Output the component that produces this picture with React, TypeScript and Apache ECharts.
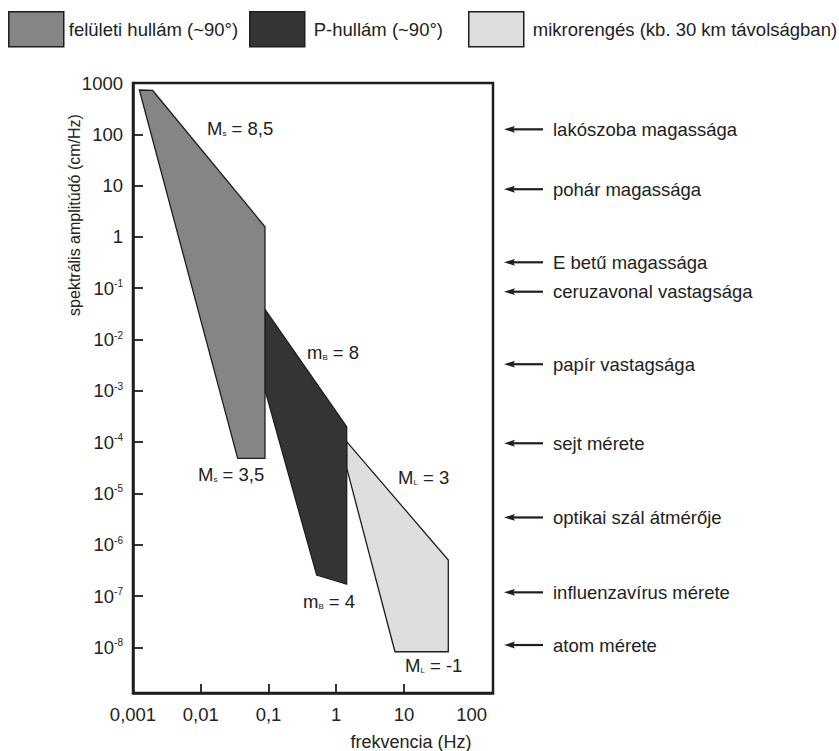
import React, { useEffect, useRef } from 'react';
import * as echarts from 'echarts';

const FONT = '"Liberation Sans", Arial, Helvetica, sans-serif';
const INK = '#1e1e1e';
const TEXT = '#222222';
const FS = 18.5;

// Series
const seriesNames = ['felületi hullám (~90°)', 'P-hullám (~90°)', 'mikrorengés (kb. 30 km távolságban)'];
const seriesFills = ['#858585', '#343434', '#dedede'];

// Polygon vertices: [frequency (Hz), spectral amplitude (cm/Hz)]
const surfaceWave: number[][] = [
  [0.00124, 730], [0.00195, 715], [0.0887, 1.58], [0.0887, 4.83e-5], [0.0351, 4.83e-5],
];
const pWave: number[][] = [
  [0.0887, 0.0388], [1.426, 2.0e-4], [1.426, 1.71e-7], [0.514, 2.56e-7], [0.0887, 1.04e-3],
];
const microQuake: number[][] = [
  [1.426, 1.02e-4], [45.1, 5.04e-7], [45.1, 8.2e-9], [7.36, 8.2e-9], [1.426, 3.13e-5],
];

// Ticks (decade exponents) and labels
const xTickExps = [-3, -2, -1, 0, 1, 2];
const xTickLabels = ['0,001', '0,01', '0,1', '1', '10', '100'];
const yTickExps = [-8, -7, -6, -5, -4, -3, -2, -1, 0, 1, 2, 3];
const yTickLabels = [
  '10{sup|-8}', '10{sup|-7}', '10{sup|-6}', '10{sup|-5}', '10{sup|-4}', '10{sup|-3}',
  '10{sup|-2}', '10{sup|-1}', '1', '10', '100', '1000',
];

// Reference sizes (cm)
const refNames = [
  'lakószoba magassága', 'pohár magassága', 'E betű magassága', 'ceruzavonal vastagsága',
  'papír vastagsága', 'sejt mérete', 'optikai szál átmérője', 'influenzavírus mérete', 'atom mérete',
];
const refValues = [125, 8.5, 0.32, 0.0855, 0.0033, 9.5e-5, 3.4e-6, 1.18e-7, 1.11e-8];

// Magnitude annotations
const magnitudeTexts = ['M{sub|s} = 8,5', 'm{sub|B} = 8', 'M{sub|s} = 3,5', 'M{sub|L} = 3', 'm{sub|B} = 4', 'M{sub|L} = -1'];
const magnitudePos = [[207, 128], [307, 352], [198, 474], [398, 477], [303, 601], [405, 665]];

const polys = [surfaceWave, pWave, microQuake];
const toLog = (pts: number[][]) => pts.map(([x, y]) => [Math.log10(x), Math.log10(y)]);

export default function App() {
  const ref = useRef<HTMLDivElement>(null);

  useEffect(() => {
    document.body.style.margin = '0';
    if (!ref.current) return;
    const chart = echarts.init(ref.current, null, { renderer: 'svg' });

    const legendLeft = [8, 249, 468];
    const legendPad = [0, 4, 4];

    const option: any = {
      animation: false,
      backgroundColor: '#ffffff',
      textStyle: { fontFamily: FONT },
      legend: seriesNames.map((n, i) => ({
        data: [n],
        left: legendLeft[i],
        top: 11,
        padding: 0,
        itemWidth: 55,
        itemHeight: 35,
        icon: 'rect',
        selectedMode: false,
        itemStyle: { borderColor: INK, borderWidth: 1.5 },
        textStyle: { fontSize: FS, color: TEXT, fontFamily: FONT, padding: [0, 0, 0, legendPad[i]] },
      })),
      grid: {
        left: 133,
        top: 83,
        width: 360,
        height: 610,
        show: true,
        borderColor: INK,
        borderWidth: 2.5,
        backgroundColor: 'transparent',
        outerBoundsMode: 'none',
      },
      xAxis: {
        type: 'value',
        min: -3,
        max: 2.314,
        splitLine: { show: false },
        axisLine: { show: true, onZero: false, lineStyle: { color: INK, width: 2.5 } },
        axisTick: {
          show: true, inside: true, length: 9, customValues: [-2, -1, 0, 1],
          lineStyle: { color: INK, width: 1.8 },
        },
        axisLabel: {
          customValues: xTickExps,
          formatter: (v: number) => {
            const k = xTickExps.indexOf(Math.round(v));
            return k >= 0 && Math.abs(v - Math.round(v)) < 1e-6 ? xTickLabels[k] : '';
          },
          fontSize: FS,
          color: TEXT,
          fontFamily: FONT,
          margin: 12,
        },
      },
      yAxis: {
        type: 'value',
        min: -8.89,
        max: 3,
        splitLine: { show: false },
        axisLine: { show: true, onZero: false, lineStyle: { color: INK, width: 2.5 } },
        axisTick: {
          show: true, inside: true, length: 10, customValues: yTickExps,
          lineStyle: { color: INK, width: 1.8 },
        },
        axisLabel: {
          customValues: yTickExps,
          formatter: (v: number) => {
            const k = yTickExps.indexOf(Math.round(v));
            return k >= 0 && Math.abs(v - Math.round(v)) < 1e-6 ? yTickLabels[k] : '';
          },
          fontSize: FS,
          color: TEXT,
          fontFamily: FONT,
          margin: 10,
          rich: {
            sup: { fontSize: 10, verticalAlign: 'top', color: TEXT, fontFamily: FONT },
          },
        },
      },
      series: [2, 1, 0].map((i) => ({
        type: 'custom',
        name: seriesNames[i],
        coordinateSystem: 'cartesian2d',
        data: toLog(polys[i]),
        encode: { x: 0, y: 1 },
        itemStyle: { color: seriesFills[i] },
        renderItem: (params: any, api: any) => {
          if (params.dataIndex !== 0) return { type: 'group', children: [] };
          const pts = toLog(polys[i]).map((p) => api.coord(p));
          return {
            type: 'polygon',
            shape: { points: pts },
            style: { fill: seriesFills[i], stroke: INK, lineWidth: 1.3 },
          };
        },
      })),
    };

    chart.setOption(option);

    const graphics: any[] = [];
    // axis titles
    graphics.push({
      type: 'text',
      x: 74,
      y: 215,
      rotation: Math.PI / 2,
      style: {
        text: 'spektrális amplitúdó (cm/Hz)', fontSize: 16, fontFamily: FONT, fill: TEXT,
        align: 'center', verticalAlign: 'middle',
      },
    });
    graphics.push({
      type: 'text',
      x: 411,
      y: 742,
      style: {
        text: 'frekvencia (Hz)', fontSize: 18, fontFamily: FONT, fill: TEXT,
        align: 'center', verticalAlign: 'middle',
      },
    });
    // magnitude annotations
    magnitudeTexts.forEach((t, i) => {
      graphics.push({
        type: 'text',
        x: magnitudePos[i][0],
        y: magnitudePos[i][1],
        z: 10,
        style: {
          text: t, fontSize: FS, fontFamily: FONT, fill: TEXT,
          align: 'left', verticalAlign: 'middle',
          rich: { sub: { fontSize: 8, verticalAlign: 'bottom', fill: TEXT, fontFamily: FONT } },
        },
      });
    });
    // reference arrows
    refValues.forEach((v, i) => {
      const y = chart.convertToPixel({ yAxisIndex: 0 } as any, Math.log10(v)) as unknown as number;
      graphics.push({
        type: 'line',
        shape: { x1: 511, y1: y, x2: 543, y2: y },
        style: { stroke: INK, lineWidth: 2.2 },
      });
      graphics.push({
        type: 'polygon',
        shape: { points: [[504, y], [515, y - 3.4], [513, y], [515, y + 3.4]] },
        style: { fill: INK },
      });
      graphics.push({
        type: 'text',
        x: 553,
        y: y,
        style: {
          text: refNames[i], fontSize: FS, fontFamily: FONT, fill: TEXT,
          align: 'left', verticalAlign: 'middle',
        },
      });
    });

    chart.setOption({ graphic: graphics });

    return () => chart.dispose();
  }, []);

  return <div ref={ref} style={{ width: 839, height: 751 }} />;
}
